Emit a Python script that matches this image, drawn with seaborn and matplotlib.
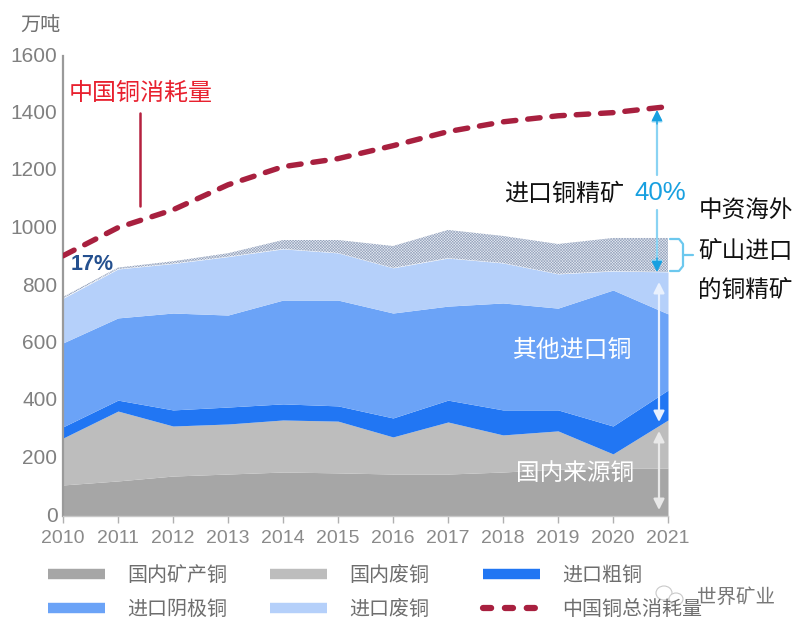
import matplotlib
matplotlib.use("Agg")
import matplotlib.pyplot as plt
import seaborn as sns
import pandas as pd
from matplotlib.lines import Line2D
from matplotlib.patches import Ellipse
from matplotlib.transforms import ScaledTranslation

years = list(range(2010, 2022))
domestic_mine = [108, 122, 139, 146, 153, 150, 146, 146, 153, 163, 167, 167]
domestic_scrap = [163, 243, 174, 174, 181, 180, 129, 181, 129, 133, 49, 167]
import_blister = [39, 38, 56, 59, 56, 53, 66, 76, 87, 73, 97, 104]
import_cathode = [292, 286, 337, 320, 361, 368, 365, 327, 372, 354, 473, 265]
import_scrap = [155, 170, 172, 203, 178, 164, 157, 167, 139, 119, 66, 146]
overseas_conc = [5, 5, 8, 12, 31, 45, 76, 98, 94, 104, 115, 118]
total_use = [905, 1003, 1065, 1152, 1215, 1243, 1288, 1337, 1371, 1392, 1403, 1424]
yticks = [0, 200, 400, 600, 800, 1000, 1200, 1400, 1600]
area_colors = ["#A6A6A6", "#BDBDBD", "#2176F3", "#6BA3F7", "#B5D0FA", "#E8ECF4"]
line_color = "#A8203F"
legend_cols = [["国内矿产铜", "进口阴极铜"], ["国内废铜", "进口废铜"], ["进口粗铜", "中国铜总消耗量"]]
legend_colors = [["#A6A6A6", "#6BA3F7"], ["#BDBDBD", "#B5D0FA"], ["#2176F3", line_color]]

W, H = 800, 632
sns.set_theme(style="white")
plt.rcParams["font.family"] = ["Noto Sans CJK SC", "DejaVu Sans"]
plt.rcParams["hatch.linewidth"] = 0.4
plt.rcParams["hatch.color"] = "#95A3BC"

fig = plt.figure(figsize=(W / 100, H / 100), dpi=100, facecolor="white")
L, R, T, B = 63, 668, 56, 516
ax = fig.add_axes([L / W, 1 - B / H, (R - L) / W, (B - T) / H])


def px(x, y):
    return (x / W, 1 - y / H)


stacks = ax.stackplot(
    years,
    domestic_mine, domestic_scrap, import_blister, import_cathode, import_scrap, overseas_conc,
    colors=area_colors, linewidth=0,
)
stacks[-1].set_hatch("xxxxxxxxxxxx")
stacks[-1].set_edgecolor("#95A3BC")
stacks[-1].set_linewidth(0)

df = pd.DataFrame({"year": years, "total": total_use})
sns.lineplot(data=df, x="year", y="total", ax=ax, color=line_color, linewidth=3.9, zorder=5)
ax.lines[-1].set_linestyle((0, (2.3, 2.2)))
ax.lines[-1].set_dash_capstyle("round")

ax.set_xlim(2010, 2021)
ax.set_ylim(0, 1600)
ax.set_xticks(years)
ax.set_yticks(yticks)
ax.set_xlabel("")
ax.set_ylabel("")
ax.tick_params(axis="x", bottom=True, length=5, width=1, color="#B0B0B0", pad=5, labelsize=14, labelcolor="#8A8A8A")
ax.tick_params(axis="y", left=False, length=0, pad=4, labelsize=15, labelcolor="#808080")
for lab in ax.get_xticklabels() + ax.get_yticklabels():
    lab.set_fontfamily(["Liberation Sans", "DejaVu Sans"])
for lab in ax.get_yticklabels():
    lab.set_transform(lab.get_transform() + ScaledTranslation(0, 0.02, fig.dpi_scale_trans))
ax.spines["top"].set_visible(False)
ax.spines["right"].set_visible(False)
ax.spines["left"].set_color("#9A9A9A")
ax.spines["left"].set_linewidth(1.6)
ax.spines["bottom"].set_color("#C8C8C8")
ax.spines["bottom"].set_linewidth(1)

txt = lambda x, y, s, **k: fig.text(*px(x, y + 2.5), s, va="center", **k)
txt(20, 24, "万吨", fontsize=14.5, color="#707070")
txt(69, 91, "中国铜消耗量", fontsize=17.3, color="#E8202E")
txt(71, 262, "17%", fontsize=15.5, color="#24508F", fontweight="bold", family=["Liberation Sans"])
txt(504, 191, "进口铜精矿", fontsize=17.3, color="#111111")
txt(634, 191, "40%", fontsize=18.5, color="#18A0E0", family=["Liberation Sans"])
txt(699, 208, "中资海外", fontsize=17, color="#111111")
txt(698, 249, "矿山进口", fontsize=17, color="#111111")
txt(698, 288, "的铜精矿", fontsize=17, color="#111111")
txt(513, 348, "其他进口铜", fontsize=17.2, color="#FFFFFF")
txt(516, 471, "国内来源铜", fontsize=17, color="#FFFFFF")
txt(697, 595, "世界矿业", fontsize=14, color="#777777", zorder=10)


def arrow(p0, p1, color, lw=1.6, ms=16, z=7):
    ax.annotate("", xy=px(*p1), xytext=px(*p0), xycoords="figure fraction", textcoords="figure fraction",
                arrowprops=dict(arrowstyle="-|>", color=color, lw=lw, mutation_scale=ms, shrinkA=0, shrinkB=0),
                annotation_clip=False, zorder=z)


arrow((657, 175), (657, 110), "#8AD3F3")
arrow((657, 210), (657, 272), "#8AD3F3")
arrow((657, 124), (657, 110), "#18A0E0", lw=1, z=8)
arrow((657, 258), (657, 272), "#18A0E0", lw=1, z=8)
arrow((659, 345), (659, 282), "#E9F1FE")
arrow((659, 345), (659, 422), "#E9F1FE")
arrow((659, 470), (659, 431), "#E9E9E9")
arrow((659, 470), (659, 510), "#E9E9E9")

# thin leader and bracket
fig.add_artist(Line2D(*zip(px(140, 113), px(140, 206)), color="#B5213F", lw=1.8))
fig.add_artist(Line2D(*zip(px(670, 239), px(679, 239), px(683, 244), px(683, 266), px(679, 271), px(670, 271)),
                      color="#6CC8EE", lw=1.6))
fig.add_artist(Line2D(*zip(px(683, 255), px(693, 255)), color="#6CC8EE", lw=1.6))

# watermark glyph
for cx, cy, w, h in [(664, 593, 16, 14), (676, 599, 14, 12)]:
    x0, y0 = px(cx, cy)
    fig.add_artist(Ellipse((x0, y0), w / W, h / H, facecolor="white", edgecolor="#C9C9C9", lw=0.8, transform=fig.transFigure))

for col_x, names, colors in zip([30, 252, 465], legend_cols, legend_colors):
    handles = []
    for name, c in zip(names, colors):
        if name == "中国铜总消耗量":
            handles.append(Line2D([], [], color=c, lw=4.5, linestyle=(0, (1.3, 2.2)), dash_capstyle="round"))
        else:
            handles.append(Line2D([], [], color=c, lw=7.5, solid_capstyle="butt"))
    fig.legend(handles, names, loc="upper left", bbox_to_anchor=px(col_x, 547), frameon=False,
               fontsize=14.4, labelcolor="#6E6E6E", handlelength=2.85, handletextpad=1.1, labelspacing=0.67)

fig.savefig("out.png", dpi=100, facecolor="white")
